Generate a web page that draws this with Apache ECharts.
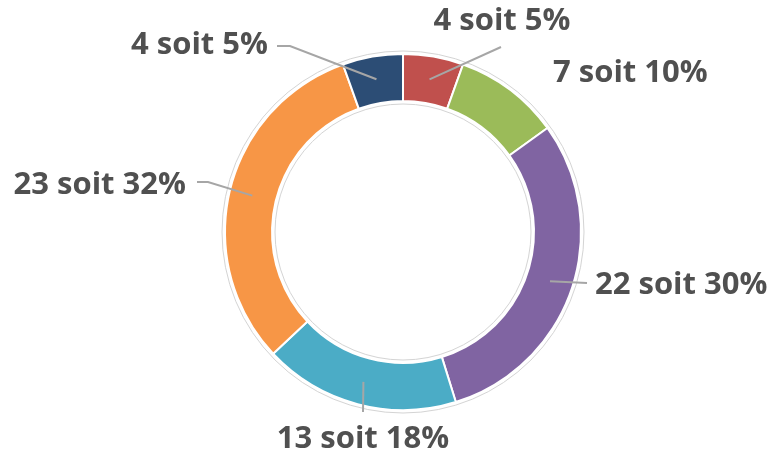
<!DOCTYPE html>
<html>
<head>
<meta charset="utf-8">
<script src="https://cdn.jsdelivr.net/npm/echarts@6/dist/echarts.min.js"></script>
<style>
  html, body { margin: 0; padding: 0; background: #fff; }
  #chart { width: 774px; height: 458px; }
</style>
</head>
<body>
<div id="chart"></div>
<script>
// données du graphique
const categories = ['A', 'B', 'C', 'D', 'E', 'F'];
const values = [4, 7, 22, 13, 23, 4];
const colors = ['#c0504d', '#9bbb59', '#8064a2', '#4bacc6', '#f79646', '#2c4d75'];

const center = [403, 232];

// placement des étiquettes (style Excel)
const labelSpots = [
    { x: 502, y: 21, align: 'center', bend: [[501, 47]] },
    { x: 553, y: 73, align: 'left', bend: null },
    { x: 595, y: 285, align: 'left', bend: [[587, 283]] },
    { x: 363, y: 439, align: 'center', bend: [[363, 412]] },
    { x: 186, y: 185, align: 'right', bend: [[208, 182], [197, 182]] },
    { x: 268, y: 45, align: 'right', bend: [[290, 46], [277, 46]] }
];

const chart = echarts.init(document.getElementById('chart'));

const pieData = categories.map((c, i) => ({ name: c, value: values[i] }));

chart.setOption({
    animation: false,
    backgroundColor: '#fff',
    series: [
        {
            // fin contour gris
            type: 'pie',
            silent: true,
            center: center,
            radius: [128, 181],
            startAngle: 90,
            label: { show: false },
            itemStyle: { color: '#fff', borderColor: '#d4d4d4', borderWidth: 1 },
            data: [{ value: 1 }],
            z: 1
        },
        {
            type: 'pie',
            silent: true,
            center: center,
            radius: [131, 178],
            startAngle: 90,
            label: { show: false },
            labelLine: { show: false },
            itemStyle: { borderColor: '#fff', borderWidth: 2 },
            data: pieData.map((d, i) => ({ ...d, itemStyle: { color: colors[i] } })),
            z: 2
        },
        {
            // série invisible pour les étiquettes au milieu de l'anneau
            type: 'pie',
            silent: true,
            center: center,
            radius: [0, 155],
            startAngle: 90,
            avoidLabelOverlap: false,
            itemStyle: { color: 'transparent', borderWidth: 0 },
            label: {
                show: true,
                position: 'outside',
                formatter: p => p.value + ' soit ' + Math.round(p.percent) + '%',
                fontFamily: 'Open Sans',
                fontWeight: 'bold',
                fontSize: 31,
                color: '#505050'
            },
            labelLine: {
                show: true,
                length: 10,
                length2: 10,
                lineStyle: { color: '#a6a6a6', width: 2 }
            },
            labelLayout: function (params) {
                const s = labelSpots[params.dataIndex];
                const out = { x: s.x, y: s.y, align: s.align, verticalAlign: 'middle' };
                if (s.bend && params.labelLinePoints) {
                    out.labelLinePoints = [params.labelLinePoints[0]].concat(s.bend);
                }
                return out;
            },
            data: pieData.map((d, i) => i === 1 ? { ...d, labelLine: { show: false } } : d),
            z: 3
        }
    ]
});
</script>
</body>
</html>
